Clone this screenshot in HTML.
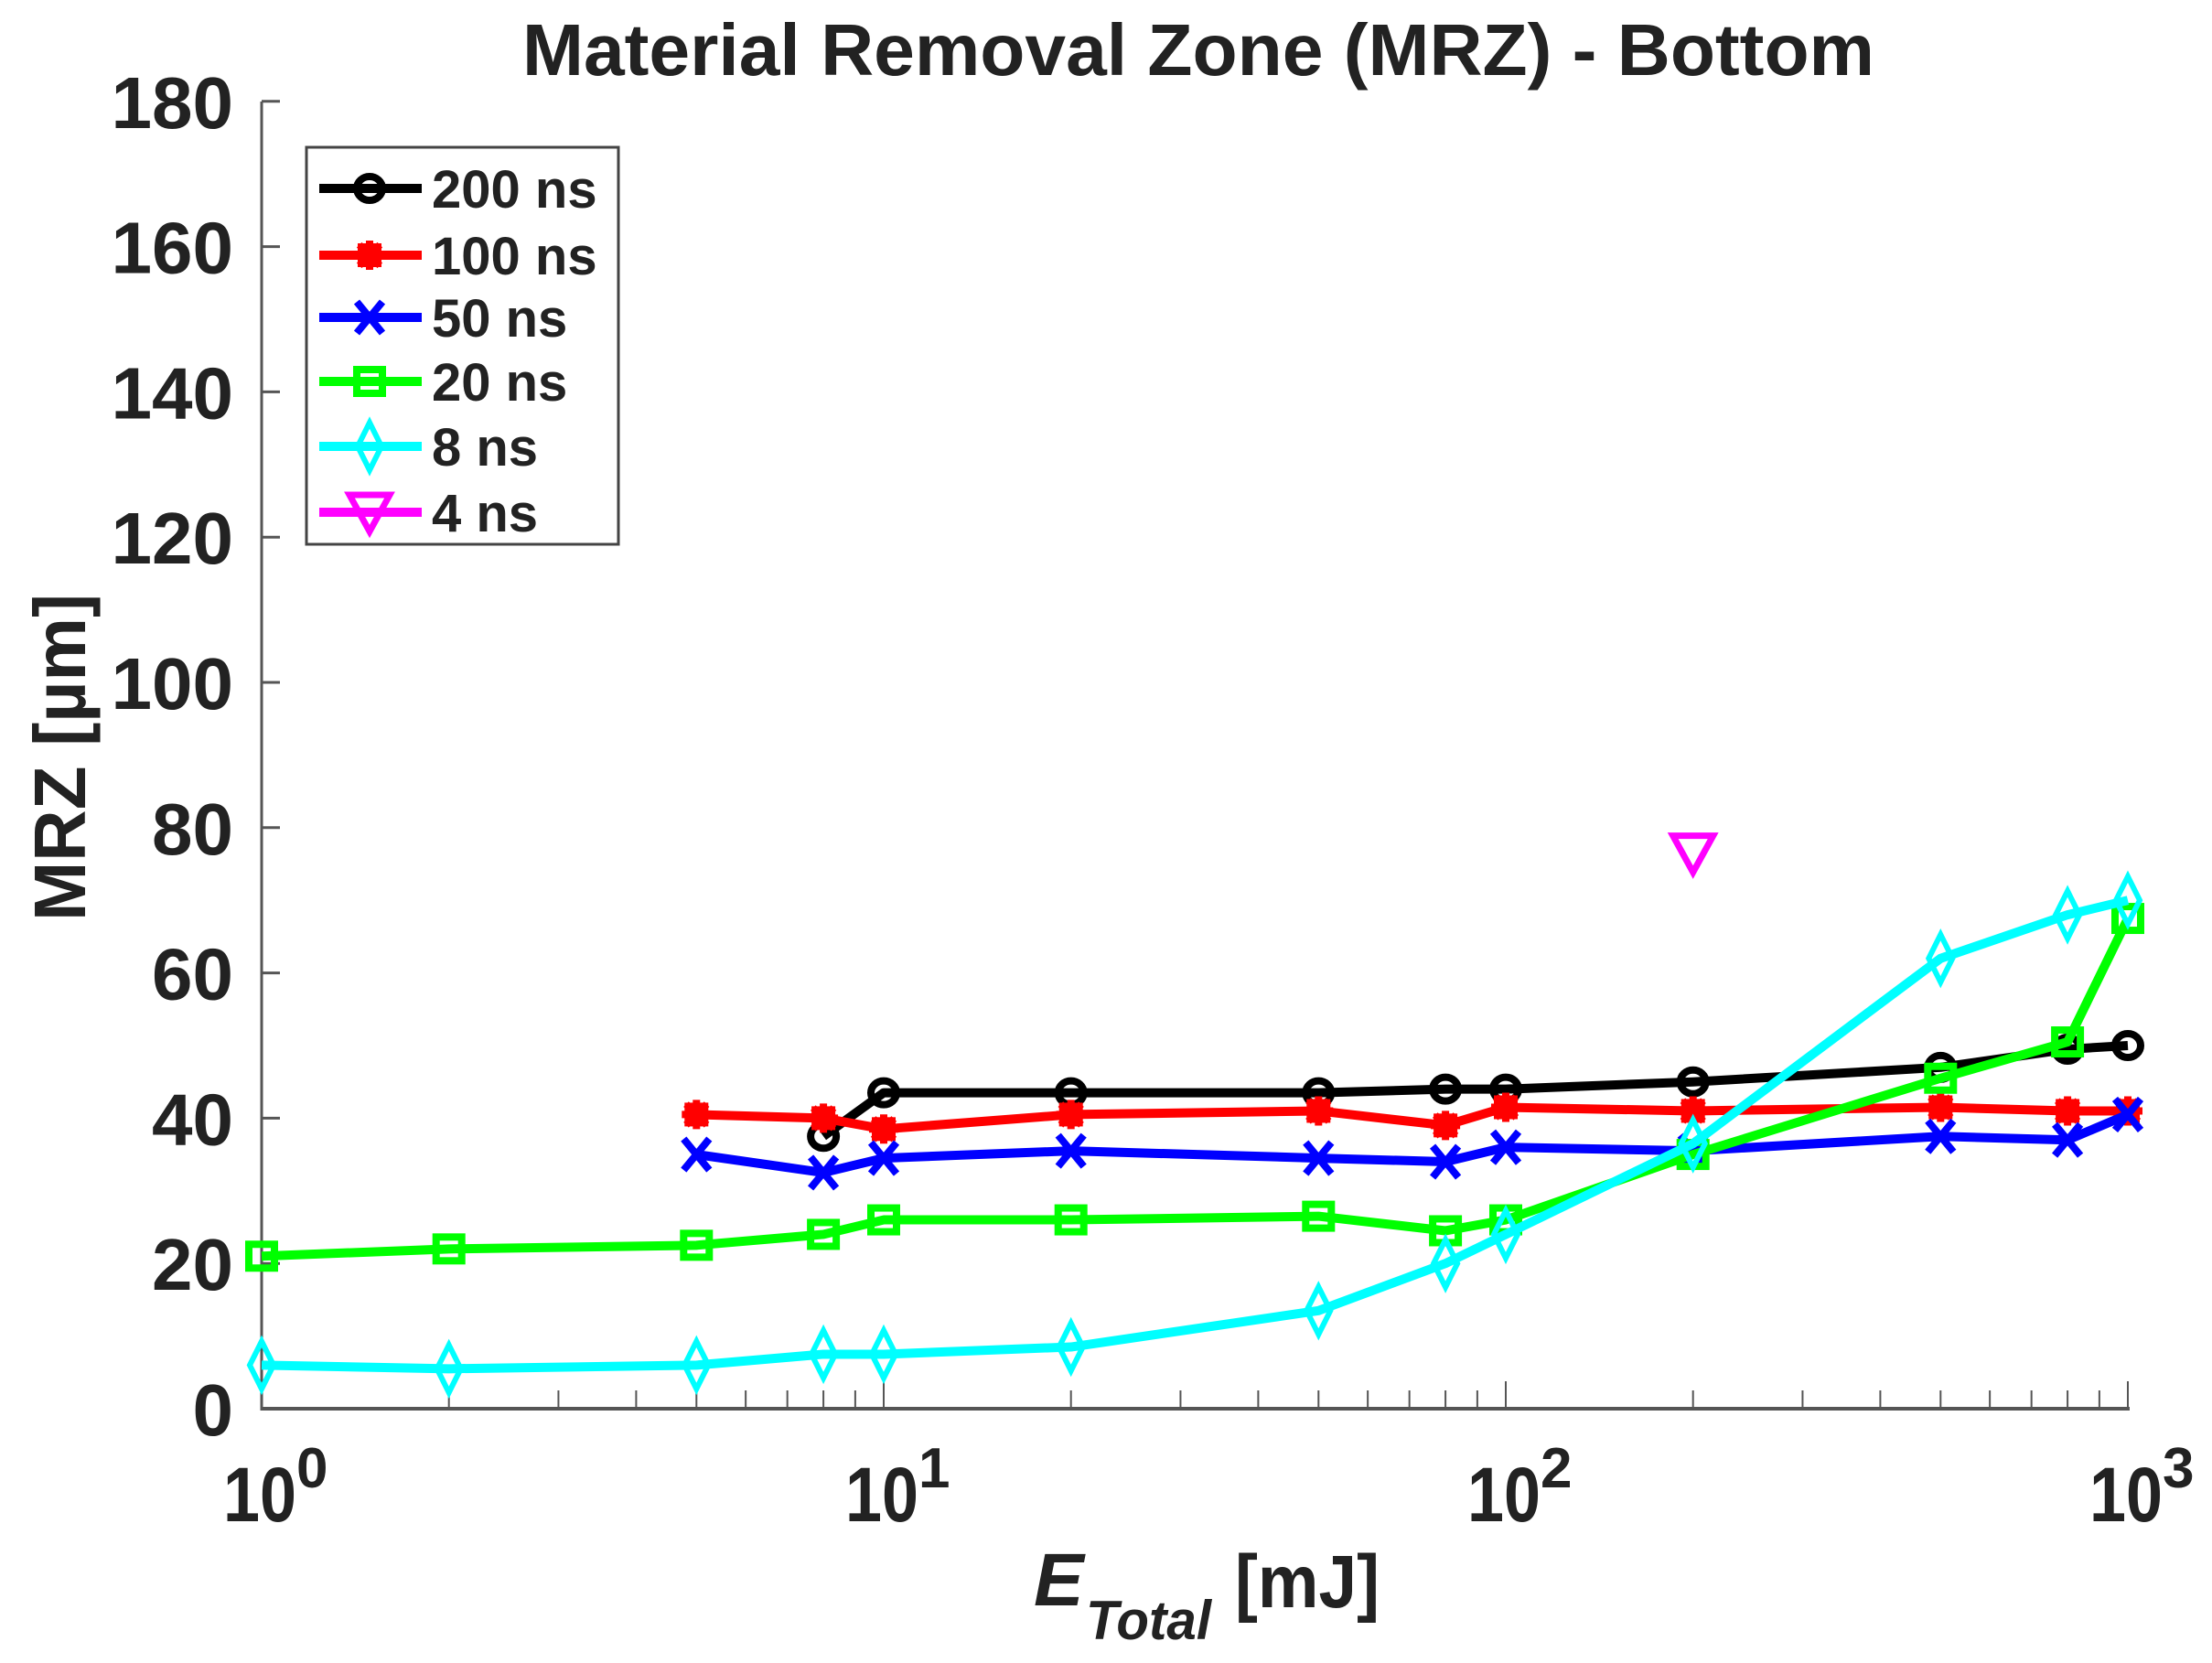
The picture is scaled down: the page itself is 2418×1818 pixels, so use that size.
<!DOCTYPE html>
<html><head><meta charset="utf-8"><style>
html,body{margin:0;padding:0;background:#fff;}
svg{display:block;}
text{font-family:"Liberation Sans",Arial,sans-serif;font-weight:bold;fill:#222;}
</style></head><body>
<svg id="s" width="2418" height="1818" viewBox="0 0 2418 1818" xmlns="http://www.w3.org/2000/svg">
<rect width="2418" height="1818" fill="#fff"/>
<text x="1310" y="82" font-size="80" text-anchor="middle" textLength="1478" lengthAdjust="spacingAndGlyphs" fill="#111">Material Removal Zone (MRZ) - Bottom</text>
<g id="axes"></g>
<g id="data"></g>
<text transform="translate(93,828) rotate(-90)" font-size="80" text-anchor="middle" textLength="358" lengthAdjust="spacingAndGlyphs">MRZ [µm]</text>
<text x="1130" y="1755" font-size="82" font-style="italic">E</text>
<text x="1187" y="1792" font-size="60" font-style="italic" textLength="137" lengthAdjust="spacingAndGlyphs">Total</text>
<text x="1350" y="1757" font-size="82" textLength="158" lengthAdjust="spacingAndGlyphs">[mJ]</text>
<g id="legend"></g>
</svg>
<script>
var NS="http://www.w3.org/2000/svg";
function el(p,t,a,txt){var e=document.createElementNS(NS,t);for(var k in a)e.setAttribute(k,a[k]);if(txt!=null)e.textContent=txt;p.appendChild(e);return e;}
var X0=286,DEC=680,YB=1540,YS=7.94;
function X(v){return X0+DEC*Math.log10(v);}
function Y(v){return YB-YS*v;}
var ax=document.getElementById('axes');
el(ax,'line',{x1:X0,y1:111,x2:X0,y2:YB+2,stroke:'#555','stroke-width':3});
el(ax,'line',{x1:X0,y1:YB,x2:X(1000)+2,y2:YB,stroke:'#555','stroke-width':4});
for(var v=0;v<=180;v+=20){var y=Y(v);
 if(v>0)el(ax,'line',{x1:X0,y1:y,x2:X0+20,y2:y,stroke:'#555','stroke-width':3});
 el(ax,'text',{x:255,y:y+29,'font-size':80,'text-anchor':'end'},String(v));}
for(var d=0;d<3;d++)for(var m=1;m<10;m++){var x=X(Math.pow(10,d)*m);
 el(ax,'line',{x1:x,y1:YB,x2:x,y2:YB-(m==1?30:20),stroke:'#555','stroke-width':2});}
el(ax,'line',{x1:X(1000),y1:YB,x2:X(1000),y2:YB-30,stroke:'#555','stroke-width':2});
for(var d=0;d<=3;d++){var x=X(Math.pow(10,d));
 el(ax,'text',{x:x-42,y:1663,'font-size':84,textLength:80,lengthAdjust:'spacingAndGlyphs'},'10');
 el(ax,'text',{x:x+38,y:1626,'font-size':62},String(d));}
function marker(g,type,x,y,c){
 var sw=6;
 if(type=='o')el(g,'ellipse',{cx:x,cy:y,rx:14,ry:13,fill:'none',stroke:c,'stroke-width':8});
 else if(type=='*'){for(var a=0;a<4;a++){var an=a*Math.PI/4;el(g,'line',{x1:x-16*Math.cos(an),y1:y-16*Math.sin(an),x2:x+16*Math.cos(an),y2:y+16*Math.sin(an),stroke:c,'stroke-width':8});}
  el(g,'rect',{x:x-13,y:y-13,width:26,height:26,fill:c});}
 else if(type=='x'){el(g,'line',{x1:x-14,y1:y-17,x2:x+14,y2:y+17,stroke:c,'stroke-width':8});el(g,'line',{x1:x-14,y1:y+17,x2:x+14,y2:y-17,stroke:c,'stroke-width':8});}
 else if(type=='s')el(g,'rect',{x:x-14,y:y-13,width:28,height:26,fill:'none',stroke:c,'stroke-width':8});
 else if(type=='d')el(g,'polygon',{points:(x)+','+(y-26)+' '+(x+13)+','+y+' '+x+','+(y+26)+' '+(x-13)+','+y,fill:'none',stroke:c,'stroke-width':sw});
 else if(type=='v')el(g,'polygon',{points:(x-22)+','+(y-19)+' '+(x+22)+','+(y-19)+' '+x+','+(y+21),fill:'none',stroke:c,'stroke-width':7});
}
var S=[
 ['#000','o','200 ns',[[8,37.5],[10,43.5],[20,43.5],[50,43.5],[80,44],[100,44],[200,45],[500,47],[800,49.5],[1000,50]]],
 ['#ff0000','*','100 ns',[[5,40.5],[8,40],[10,38.5],[20,40.5],[50,41],[80,39],[100,41.5],[200,41],[500,41.5],[800,41],[1000,41]]],
 ['#0000ff','x','50 ns',[[5,35],[8,32.5],[10,34.5],[20,35.5],[50,34.5],[80,34],[100,36],[200,35.5],[500,37.5],[800,37],[1000,40.5]]],
 ['#00ff00','s','20 ns',[[1,21],[2,22],[5,22.5],[8,24],[10,26],[20,26],[50,26.5],[80,24.5],[100,26],[200,35],[500,45.5],[800,50.5],[1000,67.5]]],
 ['#00ffff','d','8 ns',[[1,6],[2,5.5],[5,6],[8,7.5],[10,7.5],[20,8.5],[50,13.5],[80,20],[100,24],[200,36.5],[500,62],[800,68],[1000,70]]],
 ['#ff00ff','v','4 ns',[[200,76.5]]]
];
var dg=document.getElementById('data');
S.forEach(function(s){
 var pts=s[3].map(function(p){return X(p[0])+','+Y(p[1]);}).join(' ');
 if(s[3].length>1)el(dg,'polyline',{points:pts,fill:'none',stroke:s[0],'stroke-width':10,'stroke-linejoin':'round'});
 s[3].forEach(function(p){marker(dg,s[1],X(p[0]),Y(p[1]),s[0]);});
});
var lg=document.getElementById('legend');
el(lg,'rect',{x:335,y:161,width:341,height:434,fill:'#fff',stroke:'#444','stroke-width':3});
var rows=[206,279,347,417,488,560];
S.forEach(function(s,i){var y=rows[i];
 el(lg,'line',{x1:349,y1:y,x2:461,y2:y,stroke:s[0],'stroke-width':10});
 marker(lg,s[1],404,y,s[0]);
 el(lg,'text',{x:472,y:y+21,'font-size':58,fill:'#000'},s[2]);
});
</script>
</body></html>
